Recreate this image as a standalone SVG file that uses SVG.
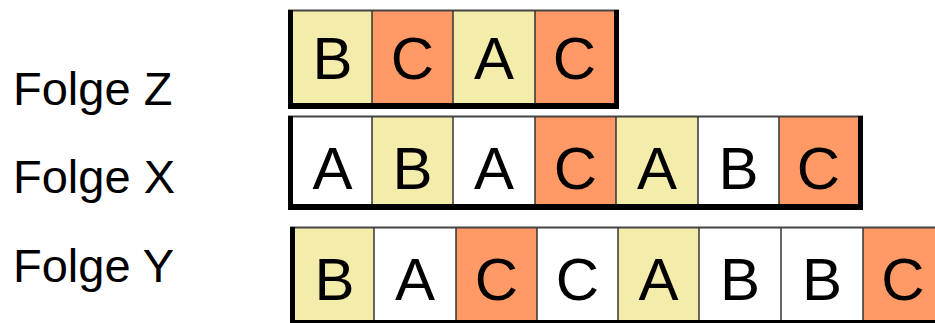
<svg xmlns="http://www.w3.org/2000/svg" width="935" height="323" viewBox="0 0 935 323">
<style>
.lbl{font-family:"Liberation Sans",Arial,sans-serif;font-size:47px;fill:#000}
.ch{font-family:"Liberation Sans",Arial,sans-serif;font-size:60px;fill:#000;text-anchor:middle}
.y{fill:#F3ECAA}
.o{fill:#FF9966}
.w{fill:#FFFFFF}
.div{stroke:#333;stroke-width:1.5}
.top{stroke:#444;stroke-width:2}
.thick{fill:#000}
</style>
<rect width="935" height="323" fill="#fff"/>
<g id="labels">
<text class="lbl" x="13" y="105">Folge Z</text>
<text class="lbl" x="13" y="193">Folge X</text>
<text class="lbl" x="13" y="282">Folge Y</text>
</g>
<g id="rowZ">
<g id="z1"><rect class="y" x="293" y="11" width="79" height="92"/><text class="ch" x="332.5" y="79">B</text></g>
<g id="z2"><rect class="o" x="372" y="11" width="81" height="92"/><text class="ch" x="412.5" y="79">C</text></g>
<g id="z3"><rect class="y" x="453" y="11" width="82" height="92"/><text class="ch" x="494" y="79">A</text></g>
<g id="z4"><rect class="o" x="535" y="11" width="79" height="92"/><text class="ch" x="574.5" y="79">C</text></g>
<line class="top" x1="288" y1="10.5" x2="619" y2="10.5"/>
<line class="div" x1="372" y1="11" x2="372" y2="103"/>
<line class="div" x1="453" y1="11" x2="453" y2="103"/>
<line class="div" x1="535" y1="11" x2="535" y2="103"/>
<rect class="thick" x="288" y="10" width="5" height="99"/>
<rect class="thick" x="614" y="10" width="5" height="99"/>
<rect class="thick" x="288" y="103" width="331" height="6"/>
</g>
<g id="rowX">
<g id="x1"><rect class="w" x="293" y="117" width="79" height="87"/><text class="ch" x="332.5" y="189">A</text></g>
<g id="x2"><rect class="y" x="372" y="117" width="81" height="87"/><text class="ch" x="412.5" y="189">B</text></g>
<g id="x3"><rect class="w" x="453" y="117" width="82" height="87"/><text class="ch" x="494" y="189">A</text></g>
<g id="x4"><rect class="o" x="535" y="117" width="81" height="87"/><text class="ch" x="575.5" y="189">C</text></g>
<g id="x5"><rect class="y" x="616" y="117" width="82" height="87"/><text class="ch" x="657" y="189">A</text></g>
<g id="x6"><rect class="w" x="698" y="117" width="81" height="87"/><text class="ch" x="738.5" y="189">B</text></g>
<g id="x7"><rect class="o" x="779" y="117" width="79" height="87"/><text class="ch" x="818.5" y="189">C</text></g>
<line class="top" x1="288" y1="116.5" x2="863" y2="116.5"/>
<line class="div" x1="372" y1="117" x2="372" y2="204"/>
<line class="div" x1="453" y1="117" x2="453" y2="204"/>
<line class="div" x1="535" y1="117" x2="535" y2="204"/>
<line class="div" x1="616" y1="117" x2="616" y2="204"/>
<line class="div" x1="698" y1="117" x2="698" y2="204"/>
<line class="div" x1="779" y1="117" x2="779" y2="204"/>
<rect class="thick" x="288" y="116" width="5" height="94"/>
<rect class="thick" x="858" y="116" width="5" height="94"/>
<rect class="thick" x="288" y="204" width="575" height="6"/>
</g>
<g id="rowY">
<g id="y1"><rect class="y" x="295" y="228" width="79" height="92"/><text class="ch" x="334.5" y="300">B</text></g>
<g id="y2"><rect class="w" x="374" y="228" width="82" height="92"/><text class="ch" x="415" y="300">A</text></g>
<g id="y3"><rect class="o" x="456" y="228" width="81" height="92"/><text class="ch" x="496.5" y="300">C</text></g>
<g id="y4"><rect class="w" x="537" y="228" width="81" height="92"/><text class="ch" x="577.5" y="300">C</text></g>
<g id="y5"><rect class="y" x="618" y="228" width="81" height="92"/><text class="ch" x="658.5" y="300">A</text></g>
<g id="y6"><rect class="w" x="699" y="228" width="82" height="92"/><text class="ch" x="740" y="300">B</text></g>
<g id="y7"><rect class="w" x="781" y="228" width="82" height="92"/><text class="ch" x="822" y="300">B</text></g>
<g id="y8"><rect class="o" x="863" y="228" width="80" height="92"/><text class="ch" x="903" y="300">C</text></g>
<line class="top" x1="290" y1="227.5" x2="935" y2="227.5"/>
<line class="div" x1="374" y1="228" x2="374" y2="320"/>
<line class="div" x1="456" y1="228" x2="456" y2="320"/>
<line class="div" x1="537" y1="228" x2="537" y2="320"/>
<line class="div" x1="618" y1="228" x2="618" y2="320"/>
<line class="div" x1="699" y1="228" x2="699" y2="320"/>
<line class="div" x1="781" y1="228" x2="781" y2="320"/>
<line class="div" x1="863" y1="228" x2="863" y2="320"/>
<rect class="thick" x="290" y="227" width="5" height="100"/>
<rect class="thick" x="290" y="320" width="650" height="6"/>
</g>
</svg>
